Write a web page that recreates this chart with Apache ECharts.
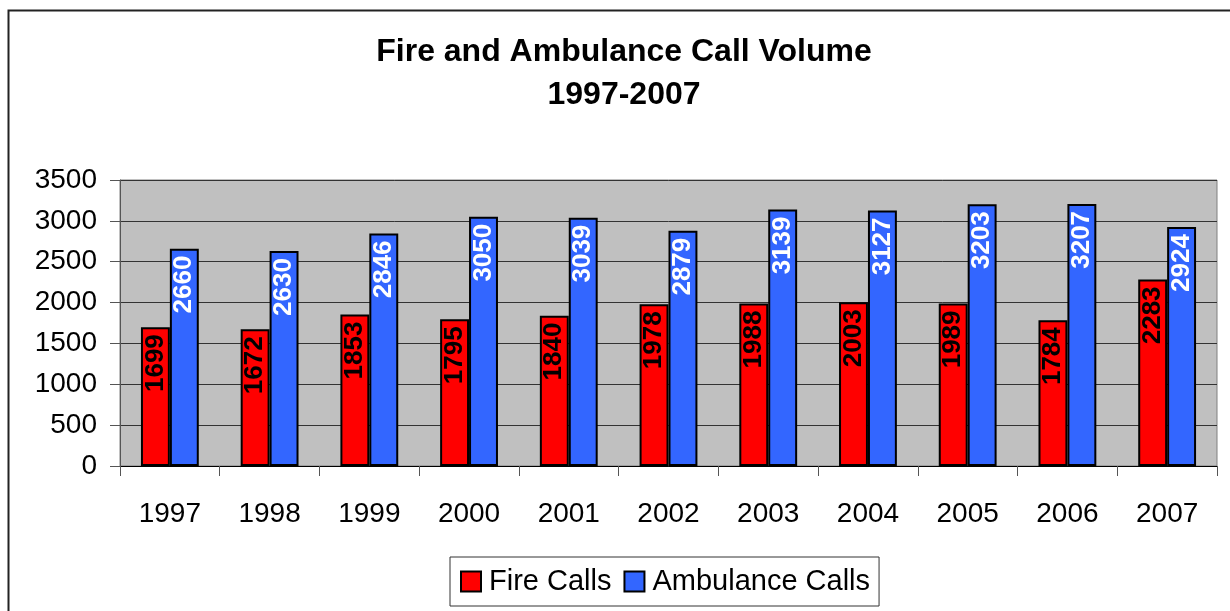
<!DOCTYPE html>
<html>
<head>
<meta charset="utf-8">
<style>
  html, body { margin: 0; padding: 0; background: #fff; }
  #chart { width: 1230px; height: 611px; }
</style>
<script src="https://cdn.jsdelivr.net/npm/echarts@6/dist/echarts.min.js"></script>
</head>
<body>
<div id="chart"></div>
<script>
// data
const years = ['1997', '1998', '1999', '2000', '2001', '2002', '2003', '2004', '2005', '2006', '2007']
const fireCalls = [1699, 1672, 1853, 1795, 1840, 1978, 1988, 2003, 1989, 1784, 2283]
const ambulanceCalls = [2660, 2630, 2846, 3050, 3039, 2879, 3139, 3127, 3203, 3207, 2924]

const font = '"Liberation Sans", Arial, sans-serif'

const chart = echarts.init(document.getElementById('chart'))

function barLabel(color) {
  return {
    show: true,
    position: 'insideTop',
    rotate: 90,
    align: 'right',
    verticalAlign: 'middle',
    distance: 7,
    color: color,
    fontFamily: font,
    fontWeight: 'bold',
    fontSize: 26
  }
}

chart.setOption({
  animation: false,
  backgroundColor: '#fff',
  textStyle: { fontFamily: font },
  graphic: [
    {
      type: 'rect',
      shape: { x: 8.5, y: 10.5, width: 1260, height: 640 },
      style: { fill: 'none', stroke: '#222', lineWidth: 2 },
      silent: true
    }
  ],
  title: {
    text: 'Fire and Ambulance Call Volume\n1997-2007',
    left: 619,
    top: 26,
    textAlign: 'center',
    textStyle: {
      fontFamily: font,
      fontSize: 32,
      fontWeight: 'bold',
      color: '#000',
      lineHeight: 43
    }
  },
  legend: {
    left: 450,
    top: 557,
    width: 434,
    padding: [10, 9, 10, 10],
    icon: 'rect',
    itemWidth: 20,
    itemHeight: 20,
    itemGap: 12,
    borderColor: '#333',
    borderWidth: 1,
    textStyle: { fontFamily: font, fontSize: 29, color: '#000', padding: [0, 0, 0, 3] },
    data: ['Fire Calls', 'Ambulance Calls']
  },
  grid: {
    left: 120,
    right: 13,
    top: 180,
    bottom: 145,
    show: true,
    backgroundColor: '#C0C0C0',
    borderColor: '#808080',
    borderWidth: 1
  },
  xAxis: {
    type: 'category',
    data: years,
    axisLine: { lineStyle: { color: '#000', width: 1 } },
    axisTick: { show: true, length: 10, lineStyle: { color: '#555' } },
    axisLabel: { fontFamily: font, fontSize: 28, color: '#000', margin: 34 }
  },
  yAxis: {
    type: 'value',
    min: 0,
    max: 3500,
    interval: 500,
    axisLine: { show: true, lineStyle: { color: '#555', width: 1 } },
    axisTick: { show: true, length: 10, lineStyle: { color: '#555' } },
    axisLabel: { fontFamily: font, fontSize: 28, color: '#000', margin: 23, formatter: v => String(v) },
    splitLine: { lineStyle: { color: '#333', width: 1 } }
  },
  series: [
    {
      name: 'Fire Calls',
      type: 'bar',
      data: fireCalls,
      barGap: '0%',
      barCategoryGap: '42%',
      itemStyle: { color: '#FF0000', borderColor: '#000', borderWidth: 2 },
      label: barLabel('#000')
    },
    {
      name: 'Ambulance Calls',
      type: 'bar',
      data: ambulanceCalls,
      barGap: '0%',
      barCategoryGap: '42%',
      itemStyle: { color: '#3366FF', borderColor: '#000', borderWidth: 2 },
      label: barLabel('#fff')
    }
  ]
})
</script>
</body>
</html>
